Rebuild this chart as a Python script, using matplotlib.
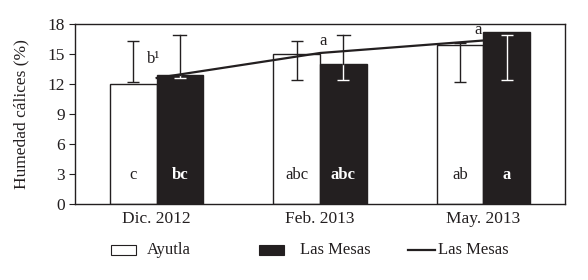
import matplotlib
matplotlib.use("Agg")
import matplotlib.pyplot as plt
import numpy as np
from matplotlib.patches import Rectangle
from matplotlib.lines import Line2D

plt.rcParams['font.family'] = ['Liberation Serif', 'DejaVu Serif']

categories = ["Dic. 2012", "Feb. 2013", "May. 2013"]
ayutla = [12.05, 15.05, 15.9]
ayutla_err_low = [12.25, 12.35, 12.25]
ayutla_err_high = [16.35, 16.35, 16.15]
mesas = [12.9, 14.0, 17.2]
mesas_err_low = [12.6, 12.45, 12.45]
mesas_err_high = [16.95, 16.95, 16.95]
mesas_line = [12.6, 15.1, 16.35]
ayutla_letters = ["c", "abc", "ab"]
mesas_letters = ["bc", "abc", "a"]
line_letters = ["b\u00b9", "a", "a"]
line_letter_y = [14.5, 16.3, 17.4]

dark = "#231f20"
W, H = 588, 280
fig = plt.figure(figsize=(W/100, H/100), dpi=100)
ax = fig.add_axes([75/W, 1-204/H, 490/W, 180/H])

x = np.arange(len(categories))
bw = 0.285
xa = x - bw/2
xm = x + bw/2
ax.bar(xa, ayutla, bw, color="white", edgecolor=dark, linewidth=1.0, zorder=2)
ax.bar(xm, mesas, bw, color=dark, edgecolor=dark, linewidth=1.0, zorder=2)

alo, ahi = np.array(ayutla_err_low), np.array(ayutla_err_high)
ax.errorbar(xa, (alo+ahi)/2, yerr=(ahi-alo)/2,
            fmt="none", ecolor=dark, elinewidth=1.0, capsize=4, capthick=1.0, zorder=3)
mlo, mhi = np.array(mesas_err_low), np.array(mesas_err_high)
ax.errorbar(xm, (mlo+mhi)/2, yerr=(mhi-mlo)/2,
            fmt="none", ecolor="white", elinewidth=1.0, capsize=4, capthick=1.0, zorder=3)
# dark parts of Las Mesas error bars above the bars
for xi, lo, hi, top in zip(xm, mesas_err_low, mesas_err_high, mesas):
    if hi > top:
        ax.plot([xi, xi], [max(top, lo), hi], color=dark, lw=1.0, zorder=3)
        ax.plot([xi-0.04, xi+0.04], [hi, hi], color=dark, lw=1.0, zorder=3)
    if lo > top:
        ax.plot([xi-0.04, xi+0.04], [lo, lo], color=dark, lw=1.0, zorder=3)

ax.plot(x, mesas_line, color=dark, lw=1.6, zorder=4)

for xi, t in zip(xa, ayutla_letters):
    ax.text(xi, 2.9, t, ha="center", va="center", fontsize=12, color=dark)
for xi, t in zip(xm, mesas_letters):
    ax.text(xi, 2.9, t, ha="center", va="center", fontsize=12, color="white", fontweight="bold")
for xi, t, yy in zip([-0.02, 1.02, 1.97], line_letters, line_letter_y):
    ax.text(xi, yy, t, ha="center", va="center", fontsize=12, color=dark)

ax.set_xlim(-0.5, 2.5)
ax.set_ylim(0, 18)
ax.set_yticks(np.arange(0, 19, 3))
ax.set_xticks(x)
ax.set_xticklabels(categories)
ax.tick_params(axis="x", length=0, labelsize=12.5, pad=5, colors=dark)
ax.tick_params(axis="y", length=4, labelsize=12.5, pad=3, colors=dark)
for s in ax.spines.values():
    s.set_color(dark)
    s.set_linewidth(1.0)
ax.set_ylabel("Humedad cálices (%)", fontsize=12.5, color=dark, labelpad=13)

# legend
def px(xp, yp):
    return xp/W, 1-yp/H
fig.add_artist(Rectangle(px(111, 255), 25/W, 10/H, facecolor="white", edgecolor=dark, lw=0.8, transform=fig.transFigure))
fig.text(*px(147, 250), "Ayutla", fontsize=12, va="center", color=dark)
fig.add_artist(Rectangle(px(259, 255), 25/W, 10/H, facecolor=dark, edgecolor=dark, lw=0.8, transform=fig.transFigure))
fig.text(*px(300, 250), "Las Mesas", fontsize=12, va="center", color=dark)
fig.add_artist(Line2D([408/W, 435/W], [1-250/H, 1-250/H], color=dark, lw=1.6, transform=fig.transFigure))
fig.text(*px(438, 250), "Las Mesas", fontsize=12, va="center", color=dark)

fig.savefig("out.png", dpi=100)
